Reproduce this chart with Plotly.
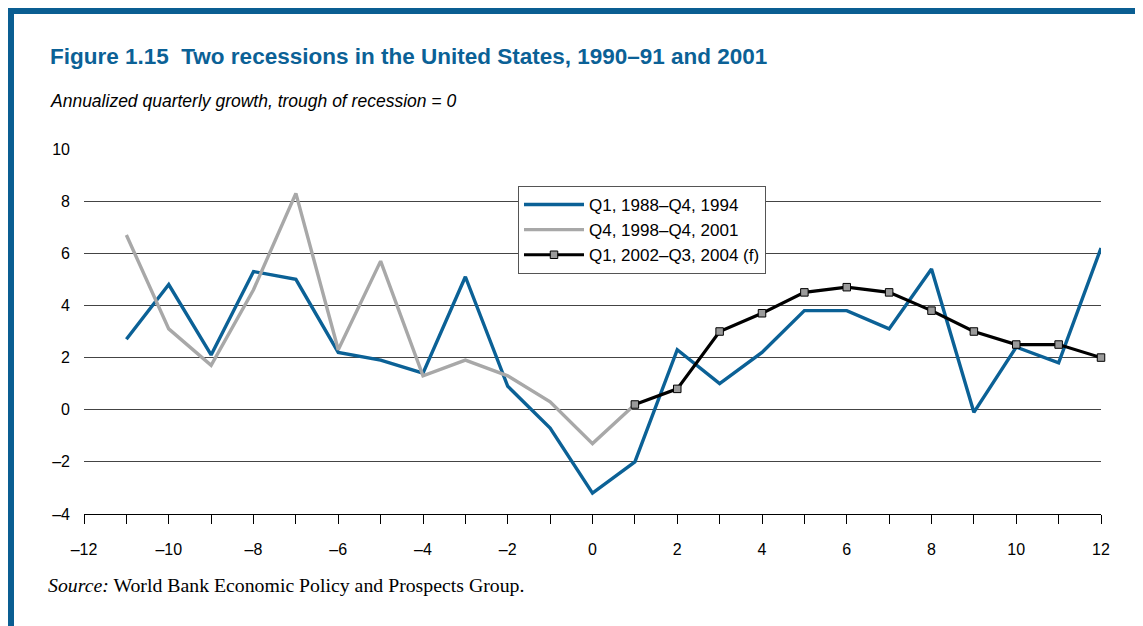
import plotly.graph_objects as go

x_blue = list(range(-11, 13))
y_blue = [2.7, 4.8, 2.1, 5.3, 5.0, 2.2, 1.9, 1.4, 5.1, 0.9, -0.7, -3.2,
          -2.0, 2.3, 1.0, 2.2, 3.8, 3.8, 3.1, 5.4, -0.1, 2.4, 1.8, 6.2]
x_gray = list(range(-11, 2))
y_gray = [6.7, 3.1, 1.7, 4.6, 8.3, 2.3, 5.7, 1.3, 1.9, 1.3, 0.3, -1.3, 0.2]
x_black = list(range(1, 13))
y_black = [0.2, 0.8, 3.0, 3.7, 4.5, 4.7, 4.5, 3.8, 3.0, 2.5, 2.5, 2.0]

names = ["Q1, 1988–Q4, 1994", "Q4, 1998–Q4, 2001", "Q1, 2002–Q3, 2004 (f)"]

x_ticks = list(range(-12, 13))
x_ticktext = [(str(v).replace("-", "–") if v % 2 == 0 else "") for v in x_ticks]
y_ticks = [-4, -2, 0, 2, 4, 6, 8, 10]
y_ticktext = [str(v).replace("-", "–") for v in y_ticks]

BLUE = "#0b6196"
OFF = 8  # page body margin
W, H = 1143 - OFF, 626 - OFF
# plot area in reference (window) pixels
PX0, PX1, PY0, PY1 = 84, 1101, 149, 514
L, T = PX0 - OFF, PY0 - OFF
R, B = W - (PX1 - OFF), H - (PY1 - OFF)
pw, ph = PX1 - PX0, PY1 - PY0

def px_x(p):
    return (p - PX0) / pw

def px_y(p):
    return (PY1 - p) / ph

SANS = "Liberation Sans, Arial, sans-serif"
SERIF = "Liberation Serif, Times New Roman, serif"

fig = go.Figure()
fig.add_trace(go.Scatter(x=x_blue, y=y_blue, mode="lines", name=names[0],
                         line=dict(color=BLUE, width=3.4), cliponaxis=False))
fig.add_trace(go.Scatter(x=x_gray, y=y_gray, mode="lines", name=names[1],
                         line=dict(color="#a8a8a8", width=3.4), cliponaxis=False))
fig.add_trace(go.Scatter(x=x_black, y=y_black, mode="lines+markers", name=names[2],
                         line=dict(color="#000000", width=3.2),
                         marker=dict(symbol="square", size=7.5, color="#9a9a9a",
                                     line=dict(color="#000000", width=1)),
                         cliponaxis=False))

fig.update_layout(
    width=W, height=H,
    margin=dict(l=L, r=R, t=T, b=B),
    paper_bgcolor="white", plot_bgcolor="white",
    font=dict(family=SANS, size=16, color="#000"),
    showlegend=True,
    legend=dict(x=px_x(518), y=px_y(186), xanchor="left", yanchor="top",
                bgcolor="white", bordercolor="#555555", borderwidth=1,
                font=dict(size=17), tracegroupgap=0, itemwidth=60),
    xaxis=dict(range=[-12, 12], tickmode="array", tickvals=x_ticks, ticktext=x_ticktext,
               showgrid=False, zeroline=False, showline=True, linecolor="#000", linewidth=1,
               ticks="outside", ticklen=9, tickcolor="#000", tickwidth=1,
               ticklabelstandoff=12, tickfont=dict(size=16)),
    yaxis=dict(range=[-4, 10], tickmode="array", tickvals=y_ticks, ticktext=y_ticktext,
               showgrid=True, gridcolor="#444444", gridwidth=1, zeroline=False,
               showline=False, ticks="", ticklabelstandoff=13, tickfont=dict(size=16)),
    shapes=[
        dict(type="line", xref="paper", yref="paper", x0=px_x(10.5), x1=px_x(1160),
             y0=px_y(10.5), y1=px_y(10.5), line=dict(color="#0a5e92", width=7)),
        dict(type="line", xref="paper", yref="paper", x0=px_x(10.5), x1=px_x(10.5),
             y0=px_y(7), y1=px_y(640), line=dict(color="#0a5e92", width=7)),
    ],
    annotations=[
        dict(text="<b>Figure 1.15  Two recessions in the United States, 1990–91 and 2001</b>",
             xref="paper", yref="paper", x=px_x(48), y=px_y(57), xanchor="left", yanchor="middle",
             showarrow=False, font=dict(size=22.5, color=BLUE, family=SANS)),
        dict(text="<i>Annualized quarterly growth, trough of recession = 0</i>",
             xref="paper", yref="paper", x=px_x(48), y=px_y(101), xanchor="left", yanchor="middle",
             showarrow=False, font=dict(size=17.5, color="#000", family=SANS)),
        dict(text="<i>Source:</i> World Bank Economic Policy and Prospects Group.",
             xref="paper", yref="paper", x=px_x(46), y=px_y(585), xanchor="left", yanchor="middle",
             showarrow=False, font=dict(size=19.8, color="#000", family=SERIF)),
    ],
)

fig.write_html("out.html")
